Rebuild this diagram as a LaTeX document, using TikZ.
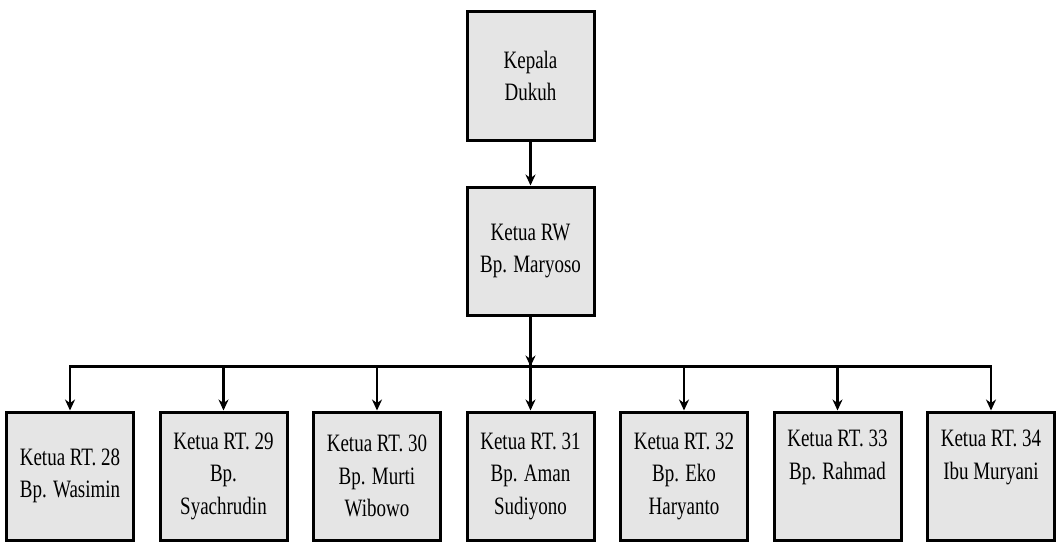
\documentclass[tikz,border=0pt]{standalone}
\usepackage{fontspec}
\setmainfont{Liberation Serif}[FakeStretch=0.76]
\usetikzlibrary{trees}
\usetikzlibrary{arrows.meta}

\begin{document}
\begin{tikzpicture}
[->,>={Stealth[length=11pt,width=10pt]},line width=2.6pt,
 box/.style={draw,fill=black!10,line width=3pt,minimum width=127pt,
   minimum height=128pt,align=center,inner sep=2pt,
   font=\fontsize{25}{32.5}\selectfont},
 every child node/.style={box},
 level 1/.style={level distance=175pt},
 level 2/.style={level distance=225pt,sibling distance=153.5pt,
   edge from parent path={(\tikzparentnode.south) -- ++(0,-50pt)
     -| (\tikzchildnode.north)}}]
\useasboundingbox (0,0) rectangle (1059pt,-543pt);
\node[box] (kd) at (530.5pt,-76pt) {Kepala\\Dukuh}
  child {node (rw) {Ketua RW\\Bp. Maryoso}
    child {node (rt28) {Ketua RT. 28\\Bp. Wasimin}}
    child {node (rt29) {Ketua RT. 29\\Bp.\\Syachrudin}}
    child {node (rt30) {Ketua RT. 30\\Bp. Murti\\Wibowo}}
    child {node (rt31) {Ketua RT. 31\\Bp. Aman\\Sudiyono}}
    child {node (rt32) {Ketua RT. 32\\Bp. Eko\\Haryanto}}
    child {node (rt33) {Ketua RT. 33\\Bp. Rahmad\\\strut}}
    child {node (rt34) {Ketua RT. 34\\Ibu Muryani\\\strut}}
  };
% arrow from RW onto the bus
\coordinate (bus) at ([yshift=-50pt]rw.south);
\draw (rw) -- (bus);
\end{tikzpicture}
\end{document}
